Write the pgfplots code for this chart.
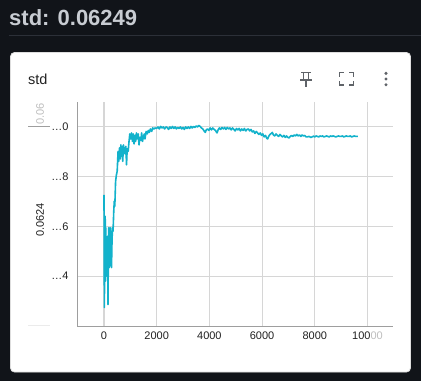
\documentclass[border=0pt]{standalone}
\usepackage{pgfplots}
\pgfplotsset{compat=1.18}
\usepackage{pgfplotstable}
\usepackage{fontspec}
\setmainfont{Liberation Sans}
\definecolor{bg}{RGB}{17,20,25}
\definecolor{titlegray}{RGB}{200,204,210}
\definecolor{sepcol}{RGB}{44,48,56}
\definecolor{cardborder}{RGB}{222,222,222}
\definecolor{cardtext}{RGB}{33,33,33}
\definecolor{iconcol}{RGB}{95,99,104}
\definecolor{axisgray}{RGB}{158,158,158}
\definecolor{gridgray}{RGB}{214,214,214}
\definecolor{zerogray}{RGB}{150,150,150}
\definecolor{ticktext}{RGB}{33,33,33}
\definecolor{fadegray}{RGB}{190,190,190}
\definecolor{linecol}{RGB}{18,178,203}

\pgfplotstableread{
x y
0 0.0624726
8 0.0624440
15 0.0624274
25 0.0624560
35 0.0624420
45 0.0624640
55 0.0624380
70 0.0624594
85 0.0624460
100 0.0624520
120 0.0624400
140 0.0624560
153 0.0624286
165 0.0624500
180 0.0624594
195 0.0624434
210 0.0624560
225 0.0624460
240 0.0624594
255 0.0624440
270 0.0624580
285 0.0624434
300 0.0624520
320 0.0624594
344 0.0624580
370 0.0624660
390 0.0624700
410 0.0624680
440 0.0624780
471 0.0624806
500 0.0624820
534 0.0624900
560 0.0624860
590 0.0624914
620 0.0624870
640 0.0624926
664 0.0624880
690 0.0624920
710 0.0624860
740 0.0624926
770 0.0624900
800 0.0624890
830 0.0624920
855 0.0624846
880 0.0624910
917 0.0624900
950 0.0624940
980 0.0624970
1010 0.0624950
1046 0.0624974
1080 0.0624940
1110 0.0624970
1140 0.0624930
1173 0.0624964
1200 0.0624940
1230 0.0624974
1260 0.0624950
1300 0.0624970
1330 0.0624926
1360 0.0624956
1400 0.0624944
1428 0.0624974
1460 0.0624940
1500 0.0624960
1530 0.0624970
1555 0.0624950
1600 0.0624980
1640 0.0624970
1682 0.0624984
1720 0.0624976
1760 0.0624990
1809 0.0624980
1850 0.0624994
1900 0.0624990
1936 0.0624994
2000 0.0624992
2050 0.0624998
2100 0.0624990
2150 0.0625000
2200 0.0624994
2250 0.0624998
2300 0.0624990
2350 0.0624998
2400 0.0624996
2450 0.0624988
2500 0.0624998
2550 0.0624992
2600 0.0625000
2650 0.0624992
2700 0.0624998
2750 0.0624990
2800 0.0624996
2850 0.0624992
2900 0.0624998
2950 0.0624990
3000 0.0624996
3050 0.0624988
3100 0.0624998
3150 0.0624992
3200 0.0624998
3250 0.0624992
3300 0.0625000
3350 0.0624994
3400 0.0625000
3450 0.0624996
3500 0.0625002
3550 0.0624998
3600 0.0625004
3650 0.0625000
3700 0.0624994
3750 0.0624990
3800 0.0624982
3844 0.0624976
3880 0.0624986
3930 0.0624990
3980 0.0624984
4030 0.0624994
4080 0.0624986
4130 0.0624994
4180 0.0624988
4230 0.0624984
4290 0.0624974
4330 0.0624986
4380 0.0624994
4430 0.0624988
4480 0.0624996
4530 0.0624990
4580 0.0624996
4630 0.0624988
4680 0.0624996
4730 0.0624990
4780 0.0624994
4830 0.0624986
4880 0.0624994
4930 0.0624988
4980 0.0624982
5030 0.0624992
5080 0.0624986
5130 0.0624992
5180 0.0624982
5230 0.0624990
5280 0.0624984
5330 0.0624992
5380 0.0624982
5430 0.0624988
5480 0.0624990
5530 0.0624982
5580 0.0624988
5630 0.0624978
5680 0.0624982
5730 0.0624972
5780 0.0624980
5830 0.0624974
5880 0.0624968
5930 0.0624974
5980 0.0624964
6030 0.0624970
6080 0.0624958
6130 0.0624964
6180 0.0624952
6210 0.0624950
6250 0.0624960
6300 0.0624968
6350 0.0624972
6390 0.0624976
6430 0.0624966
6480 0.0624962
6530 0.0624970
6580 0.0624964
6630 0.0624960
6680 0.0624968
6730 0.0624962
6780 0.0624958
6830 0.0624964
6880 0.0624956
6930 0.0624962
6980 0.0624956
7023 0.0624954
7070 0.0624960
7120 0.0624964
7170 0.0624960
7220 0.0624966
7270 0.0624962
7320 0.0624968
7370 0.0624962
7420 0.0624966
7470 0.0624960
7520 0.0624966
7570 0.0624962
7620 0.0624964
7670 0.0624958
7720 0.0624958
7780 0.0624960
7852 0.0624956
7900 0.0624958
7950 0.0624961
8000 0.0624958
8050 0.0624962
8100 0.0624960
8150 0.0624958
8200 0.0624962
8250 0.0624960
8300 0.0624962
8350 0.0624958
8400 0.0624960
8450 0.0624962
8500 0.0624960
8550 0.0624958
8600 0.0624962
8650 0.0624960
8700 0.0624962
8750 0.0624960
8800 0.0624958
8850 0.0624960
8900 0.0624962
8950 0.0624960
9000 0.0624960
9050 0.0624962
9100 0.0624958
9150 0.0624960
9200 0.0624962
9250 0.0624960
9300 0.0624960
9350 0.0624962
9400 0.0624958
9450 0.0624960
9500 0.0624962
9550 0.0624960
9600 0.0624960
9634 0.0624960
}\stddata

\begin{document}
\begin{tikzpicture}[x=1pt,y=1pt]
\path[use as bounding box] (0,0) rectangle (421,-381);
\fill[bg] (0,0) rectangle (421,-381);
\node[anchor=base west, font=\fontsize{22}{26}\selectfont\bfseries, text=titlegray, inner sep=0] at (9,-25.5) {std: 0.06249};
\draw[sepcol, line width=1pt] (9,-35) -- (421,-35);
\fill[white, draw=cardborder, line width=0.8pt, rounded corners=4pt] (10.5,-52.5) rectangle (410.5,-372);
\node[anchor=base west, font=\fontsize{14.5}{17}\selectfont, text=cardtext, inner sep=0] at (28,-84) {std};
% pin icon
\draw[iconcol, line width=1.3pt] (301.3,-72.3) -- (310.7,-72.3);
\draw[iconcol, line width=1.3pt] (303.4,-72.3) -- (303.4,-80) (308.6,-72.3) -- (308.6,-80);
\draw[iconcol, line width=1.3pt] (300.2,-80) -- (311.8,-80);
\draw[iconcol, line width=1.3pt] (306,-80) -- (306,-86.7);
% fullscreen icon
\draw[iconcol, line width=1.6pt] (339.5,-76.5) -- (339.5,-72.5) -- (343.5,-72.5);
\draw[iconcol, line width=1.6pt] (349.3,-72.5) -- (353.3,-72.5) -- (353.3,-76.5);
\draw[iconcol, line width=1.6pt] (339.5,-81) -- (339.5,-85) -- (343.5,-85);
\draw[iconcol, line width=1.6pt] (349.3,-85) -- (353.3,-85) -- (353.3,-81);
% dots
\fill[iconcol] (386,-73.3) circle (1.7) (386,-79) circle (1.7) (386,-84.7) circle (1.7);
% y axis label area
\node[rotate=90, font=\fontsize{11}{13}\selectfont, text=ticktext, inner sep=0] at (40,-220) {0.0624};
\node[rotate=90, font=\fontsize{11}{13}\selectfont, text=fadegray, inner sep=0] at (40,-114) {0.06};
\draw[axisgray, line width=0.8pt] (28,-126) -- (50,-126);
\draw[gridgray!50, line width=0.8pt] (28,-325) -- (50,-325);
\begin{axis}[
  scale only axis, width=316pt, height=224pt,
  at={(77pt,-326pt)}, anchor=south west,
  xmin=-1025, xmax=10970,
  ymin=0.06242, ymax=0.0625098,
  axis lines=left, axis line style={-, draw=axisgray, line width=1pt},
  xtick={0,2000,4000,6000,8000,10000},
  xticklabels={0,2000,4000,6000,8000,{100\textcolor{fadegray}{00}}},
  ytick={0.06244,0.06246,0.06248,0.0625},
  yticklabels={…4,…6,…8,…0},
  scaled x ticks=false, scaled y ticks=false,
  major tick length=0pt,
  grid=major, major grid style={gridgray, line width=1.1pt},
  tick label style={font=\fontsize{11}{13}\selectfont, text=ticktext},
  xticklabel style={yshift=-2pt},
  yticklabel style={xshift=-5pt},
  extra x ticks={0}, extra x tick labels={},
  extra x tick style={grid style={zerogray, line width=1.2pt}},
  clip=true,
]
\addplot[linecol, line width=1.6pt, line join=round] table[x=x,y=y]{\stddata};
\end{axis}
\end{tikzpicture}
\end{document}
